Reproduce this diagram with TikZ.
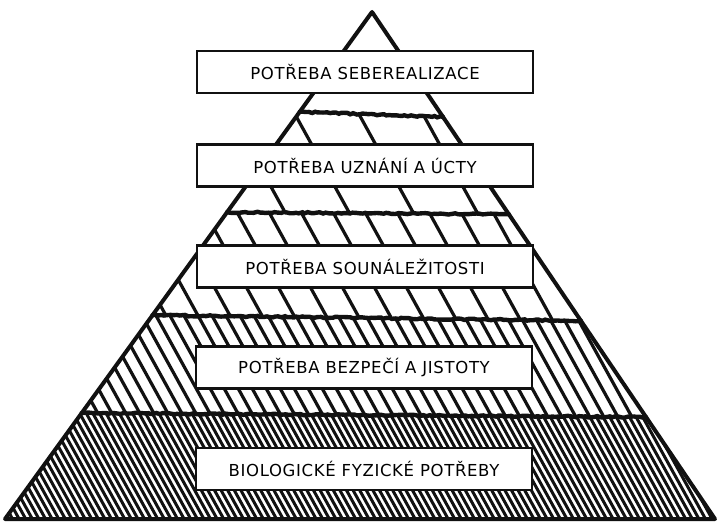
\documentclass[tikz,border=0pt]{standalone}
\usepackage{fontspec}
\newfontfamily\handfont[LetterSpace=4]{DejaVu Sans}
\usetikzlibrary{calc,positioning,decorations.pathmorphing}
\definecolor{ink}{HTML}{111111}
\tikzset{
  levelbox/.style={draw=ink,line width=2.4pt,fill=white,minimum width=336pt,
    minimum height=42pt,inner sep=0pt,font=\handfont\fontsize{16.5}{19}\selectfont},
  outline/.style={draw=ink,line width=4pt,line join=round},
  sepline/.style={draw=ink,line width=4.4pt,line cap=round,decorate,
    decoration={random steps,segment length=3pt,amplitude=0.7pt}},
  hatchline/.style={draw=ink,line width=#1},
}

\begin{document}
\begin{tikzpicture}[x=1pt,y=-1pt]
  \useasboundingbox (0,0) rectangle (720,526);
  \coordinate (apex) at (372,12);
  \coordinate (l5) at (5,519);
  \coordinate (r5) at (715,519);
  % layer borders along the two sides
  \foreach \n/\l/\r in {1/0.197/0.207, 2/0.395/0.399, 3/0.598/0.609, 4/0.791/0.799}{
    \coordinate (l\n) at ($(apex)!\l!(l5)$);
    \coordinate (r\n) at ($(apex)!\r!(r5)$);
  }
  % hatching, denser towards the base
  \foreach \a/\b/\s/\w/\o in {1/2/64/3.2/20, 2/3/32/3.2/4, 3/4/14/3.2/2, 4/5/6.6/3/0}{
    \begin{scope}
      \clip (l\a) -- (r\a) -- (r\b) -- (l\b) -- cycle;
      \foreach \i in {0,...,160}
        \draw[hatchline=\w] (-300+\o+\i*\s,0) -- (-10+\o+\i*\s,526);
    \end{scope}
  }
  \foreach \n in {1,...,4}
    \draw[sepline] (l\n) -- (r\n);
  \draw[outline] (l5) -- (apex) -- (r5) -- cycle;

  \node[levelbox] (n1) at (365,72)    {POTŘEBA SEBEREALIZACE};
  \node[levelbox] (n2) at (365,165.5) {POTŘEBA UZNÁNÍ A ÚCTY};
  \node[levelbox] (n3) at (365,266.5) {POTŘEBA SOUNÁLEŽITOSTI};
  \node[levelbox] (n4) at (364,367.5) {POTŘEBA BEZPEČÍ A JISTOTY};
  \node[levelbox] (n5) at (364,469)   {BIOLOGICKÉ FYZICKÉ POTŘEBY};
\end{tikzpicture}
\end{document}
